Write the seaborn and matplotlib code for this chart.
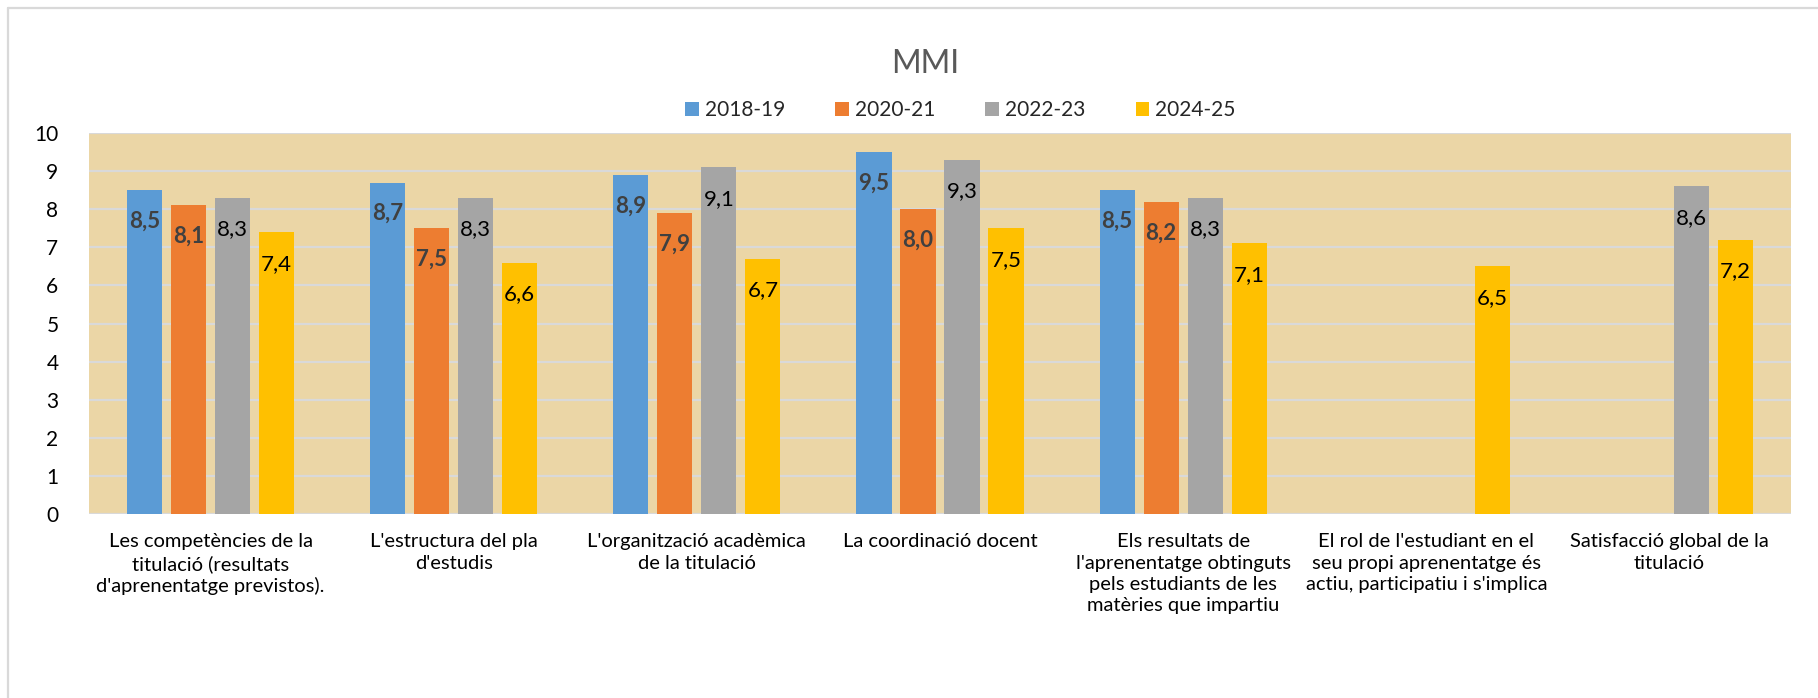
import numpy as np
import pandas as pd
import matplotlib.pyplot as plt
from matplotlib.lines import Line2D
import seaborn as sns

# ==============================
# DATA
# ==============================
categories = [
    "Les competències de la\ntitulació (resultats\nd'aprenentatge previstos).",
    "L'estructura del pla\nd'estudis",
    "L'organització acadèmica\nde la titulació",
    "La coordinació docent",
    "Els resultats de\nl'aprenentatge obtinguts\npels estudiants de les\nmatèries que impartiu",
    "El rol de l'estudiant en el\nseu propi aprenentatge és\nactiu, participatiu i s'implica",
    "Satisfacció global de la\ntitulació",
]
years = ["2018-19", "2020-21", "2022-23", "2024-25"]
vals_2018_19 = [8.5, 8.7, 8.9, 9.5, 8.5, np.nan, np.nan]
vals_2020_21 = [8.1, 7.5, 7.9, 8.0, 8.2, np.nan, np.nan]
vals_2022_23 = [8.3, 8.3, 9.1, 9.3, 8.3, np.nan, 8.6]
vals_2024_25 = [7.4, 6.6, 6.7, 7.5, 7.1, 6.5, 7.2]
colors = ["#5B9BD5", "#ED7D31", "#A5A5A5", "#FFC000"]

df = pd.DataFrame({
    "cat": categories * 4,
    "year": np.repeat(years, len(categories)),
    "val": vals_2018_19 + vals_2020_21 + vals_2022_23 + vals_2024_25,
}).dropna()

# ==============================
# PLOT
# ==============================
sns.set_theme(style="white")
plt.rcParams['font.family'] = ['Lato', 'DejaVu Sans']

fig = plt.figure(figsize=(18.18, 6.98), dpi=100)
ax = fig.add_axes([89/1818, 1-514/698, (1791-89)/1818, 381/698])

sns.barplot(data=df, x="cat", y="val", hue="year", order=categories,
            hue_order=years, palette=colors, width=0.724, gap=0.2,
            saturation=1, errorbar=None, linewidth=0, ax=ax)

ax.set_facecolor("#EBD6A6")
ax.set_ylim(0, 10)
ax.set_xlim(-0.5, len(categories) - 0.5)
ax.set_yticks(range(11))
ax.grid(axis='y', color='#D9D9D9', lw=1.6)
ax.set_axisbelow(True)
for s in ax.spines.values():
    s.set_visible(False)
ax.set_xlabel("")
ax.set_ylabel("")
ax.tick_params(axis='x', length=0, pad=14, labelsize=14.5, colors='black')
ax.tick_params(axis='y', length=0, pad=22, labelsize=15, colors='black')
for lbl in ax.get_xticklabels():
    lbl.set_linespacing(1.3)

# value labels inside the bar tops
label_style = [("#404040", "bold"), ("#404040", "bold"),
               ("black", "normal"), ("black", "normal")]
for cont, (col, wt) in zip(ax.containers, label_style):
    labels = [f"{v:.1f}".replace(".", ",") for v in cont.datavalues]
    ax.bar_label(cont, labels=labels, padding=-30, fontsize=16,
                 color=col, fontweight=wt)

sns.move_legend(ax, "lower center", bbox_to_anchor=(0.512, 1.0), ncol=4,
                frameon=False, title=None, fontsize=15, handlelength=0.65,
                handleheight=0.65, handletextpad=0.3, columnspacing=2.4,
                borderaxespad=0.2)

fig.text(0.509, 0.908, "MMI", ha='center', va='center', fontsize=23,
         color='#595959')

# chart area border (left and top)
fig.add_artist(Line2D([8/1818, 8/1818], [0, 1-8/698], transform=fig.transFigure,
                      color='#D9D9D9', lw=1.6))
fig.add_artist(Line2D([8/1818, 1], [1-8/698, 1-8/698], transform=fig.transFigure,
                      color='#D9D9D9', lw=1.6))

fig.savefig("out.png", dpi=100)
plt.close()
